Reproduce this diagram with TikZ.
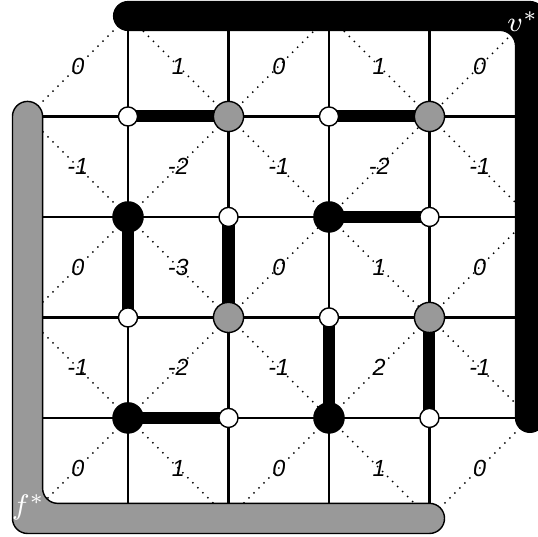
\documentclass[tikz,border=0pt]{standalone}
\usepackage{fontspec}
\newfontfamily\numfont{Liberation Sans}[ItalicFont={Liberation Sans Italic}]
\usetikzlibrary{backgrounds}
\definecolor{facegray}{HTML}{999999}

\begin{document}
\begin{tikzpicture}[
  vert w/.style={circle,draw,fill=white,line width=0.4pt,inner sep=0pt,minimum size=0.19cm},
  vert g/.style={circle,draw,fill=facegray,line width=0.4pt,inner sep=0pt,minimum size=0.3cm},
  vert b/.style={circle,draw,fill=black,inner sep=0pt,minimum size=0.3cm},
  gridline/.style={line width=0.6pt},
  dualline/.style={line width=0.4pt,dash pattern=on 0.4pt off 1.6pt},
  matched/.style={line width=3.4pt},
  cellnum/.style={font=\numfont\itshape\fontsize{6.6}{8}\selectfont,inner sep=0pt},
  starlabel/.style={text=white,font=\fontsize{8}{9}\selectfont,inner sep=0pt}]
\useasboundingbox (-1.274,-1.184) rectangle (4.080,4.159);
% ends of the grid lines on the two outer faces
\foreach \k in {0,...,3} {
  \coordinate (w\k) at (-1,\k);
  \coordinate (e\k) at (4,\k);
  \coordinate (s\k) at (\k,-1);
  \coordinate (t\k) at (\k,4);
}
% vertices, row by row from the top
\foreach \j/\row in {3/{w,g,w,g},2/{b,w,b,w},1/{w,g,w,g},0/{b,w,b,w}}
  \foreach \s [count=\i from 0] in \row
    \node[vert \s] (n\i\j) at (\i,\j) {};
% heights of the faces
\foreach \row [count=\r from 0] in {{0,1,0,1,0},{-1,-2,-1,-2,-1},{0,-3,0,1,0},{-1,-2,-1,2,-1},{0,1,0,1,0}}
  \foreach \v [count=\i from 0] in \row
    \node[cellnum] (c\i\r) at (\i-0.5,3.5-\r) {\v};
\node[starlabel] (vstar) at (3.93,3.94) {$v^*$};
\node[starlabel] (fstar) at (-0.99,-0.89) {$f^*$};
\begin{scope}[on background layer]
  \foreach \a/\b in {{-1,1}/{1,-1},{-1,3}/{3,-1},{0,4}/{4,0},{2,4}/{4,2},
                     {-1,-1}/{4,4},{1,-1}/{4,2},{3,-1}/{4,0},{-1,1}/{2,4},{-1,3}/{0,4}}
    \draw[dualline] (\a) -- (\b);
  \foreach \k in {0,...,3} {
    \draw[gridline] (w\k) -- (n0\k.center) -- (n1\k.center) -- (n2\k.center) -- (n3\k.center) -- (e\k);
    \draw[gridline] (s\k) -- (n\k0.center) -- (n\k1.center) -- (n\k2.center) -- (n\k3.center) -- (t\k);
  }
  % outer vertex and outer face
  \fill[black,rounded corners=0.15cm] (-0.15,4.15) -- (4.15,4.15) -- (4.15,-0.15)
    -- (3.85,-0.15) -- (3.85,3.85) -- (-0.15,3.85) -- cycle;
  \filldraw[fill=facegray,draw=black,line width=0.4pt,rounded corners=0.15cm] (-1.15,3.15)
    -- (-0.85,3.15) -- (-0.85,-0.85) -- (3.15,-0.85) -- (3.15,-1.15) -- (-1.15,-1.15) -- cycle;
  % the matching
  \foreach \p/\q in {n03/n13,n23/n33,n22/n32,n02/n01,n12/n11,n21/n20,n31/n30,n00/n10}
    \draw[matched] (\p.center) -- (\q.center);
\end{scope}
\end{tikzpicture}
\end{document}
